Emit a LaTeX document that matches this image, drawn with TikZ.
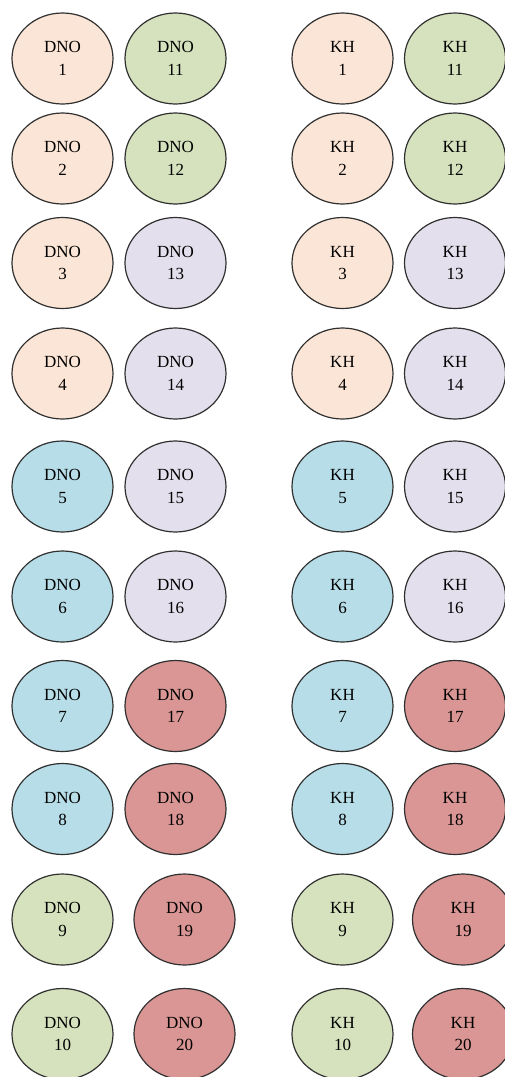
\documentclass[tikz,border=0pt]{standalone}
\usepackage{fontspec}
\setmainfont{Liberation Serif}
\usetikzlibrary{shapes.geometric}
\definecolor{peach}{HTML}{FBE5D6}
\definecolor{olive}{HTML}{D6E2BD}
\definecolor{lav}{HTML}{E4DFEC}
\definecolor{aqua}{HTML}{B7DEE8}
\definecolor{rose}{HTML}{D99694}
\definecolor{rim}{HTML}{303030}
\tikzset{
  blob/.style={ellipse, draw=rim, line width=1.2pt, minimum width=101pt, minimum height=91pt,
    inner sep=0pt, align=center, font=\fontsize{17}{22.5}\selectfont, text=black}
}
\begin{document}
\begin{tikzpicture}[x=1pt,y=-1pt]
\useasboundingbox (0,0) rectangle (504,1077);
\foreach \r/\y/\ca/\cb/\xb/\xk in {
  1/58.5/peach/olive/175.5/455,
  2/158.5/peach/olive/175.5/455,
  3/263/peach/lav/175.5/455,
  4/373.5/peach/lav/175.5/455,
  5/486.5/aqua/lav/175.5/455,
  6/596.5/aqua/lav/175.5/455,
  7/706/aqua/rose/175.5/455,
  8/809/aqua/rose/175.5/455,
  9/919.5/olive/rose/184.5/463,
  10/1034/olive/rose/184.5/463}{
  \pgfmathtruncatemacro\s{\r+10}
  \node[blob, fill=\ca] (d\r) at (62.5,\y) {DNO\\\r};
  \node[blob, fill=\cb] (d\s) at (\xb,\y) {DNO\\\s};
  \node[blob, fill=\ca] (k\r) at (342.5,\y) {KH\\\r};
  \node[blob, fill=\cb] (k\s) at (\xk,\y) {KH\\\s};
}
\end{tikzpicture}
\end{document}
